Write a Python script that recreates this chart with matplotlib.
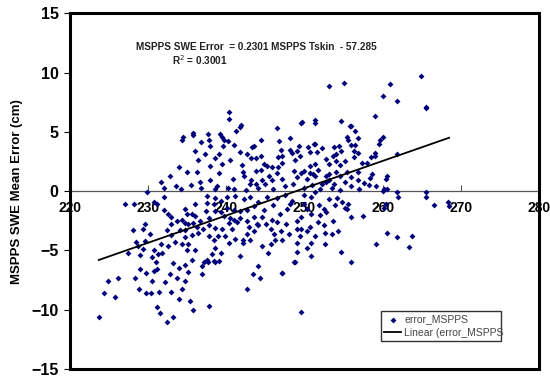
import numpy as np
import matplotlib.pyplot as plt
from matplotlib.patches import Rectangle

plt.rcParams['font.family'] = ['Liberation Sans', 'DejaVu Sans']

# ===== Data: (MSPPS Tskin, SWE mean error) =====
far_left = [
    (223.7, -10.6), (224.4, -8.6), (224.9, -7.6), (225.8, -8.9), (226.2, -7.3),
    (227.5, -5.2), (227.0, -1.1), (228.2, -1.1), (228.3, -7.3), (228.8, -8.3),
    (228.5, -4.3), (228.7, -4.6), (229.0, -6.6), (229.7, -8.6), (229.7, -6.9),
    (229.4, -3.2), (229.9, -0.1), (229.6, -4.2), (229.4, -4.9), (229.0, -5.4),
    (229.6, -2.8), (228.1, -3.3), (230.3, -3.6), (230.7, -5.0), (230.5, -5.6),
    (231.0, -6.0), (230.7, -6.7), (230.5, -7.6), (230.4, -8.6), (231.4, -8.5),
    (231.1, -9.8), (231.5, -10.3), (232.4, -11.0), (233.2, -10.6), (232.2, -7.7),
    (232.8, -7.0), (233.9, -9.1), (234.3, -8.3), (235.4, -9.3), (235.8, -10.0),
    (234.7, -7.6), (233.0, -8.5), (233.7, -7.3), (230.7, -0.9), (231.1, -1.1),
]
left_mid = [
    (232.0, -0.5), (232.0, -1.6), (232.6, -1.9), (233.0, -2.2), (233.7, -2.5),
    (234.3, -2.4), (234.7, -2.7), (235.1, -2.8), (235.8, -2.7), (236.2, -3.0),
    (236.0, -2.1), (235.6, -1.9), (235.0, -1.9), (234.7, -1.5), (236.0, -1.1),
    (233.0, -2.8), (232.4, -3.3), (233.0, -3.7), (233.5, -4.3), (232.6, -4.6),
    (231.7, -4.5), (231.8, -5.2), (231.3, -5.3), (231.1, -6.6), (233.2, -6.1),
    (233.9, -6.5), (234.7, -6.2), (235.1, -6.8), (235.6, -5.8), (236.0, -5.0),
    (235.0, -5.0), (234.3, -4.5), (234.7, -3.9), (235.6, -3.7), (236.4, -3.5),
    (234.1, -3.3), (234.7, -3.3), (235.1, -4.5), (236.9, -7.0), (237.2, -6.0),
    (237.5, -5.8), (238.2, -5.3), (238.5, -6.0), (239.1, -5.9), (239.3, -5.2),
    (238.6, -4.8), (237.8, -9.7), (236.9, -6.3), (237.7, -6.0), (238.4, -5.9),
]
left_upper = [
    (234.5, 4.6), (234.4, 4.3), (235.8, 4.9), (235.7, 4.7), (236.0, 3.4),
    (235.0, 1.6), (236.3, 1.6), (234.2, 0.2), (240.4, 6.7), (240.3, 6.1),
    (241.9, 5.6), (241.8, 5.4), (241.2, 5.1), (237.7, 4.8), (237.8, 4.3),
    (239.2, 4.8), (239.5, 4.6), (239.7, 4.3), (237.9, 3.8), (239.6, 3.8),
    (237.3, 3.1), (239.1, 3.1), (239.4, 2.3), (237.9, 2.1), (237.9, 0.9),
    (239.1, 1.5), (240.9, 1.0), (242.0, 2.2), (241.8, 3.3), (242.6, 3.1),
    (243.3, 3.7), (243.5, 3.8), (244.4, 4.3), (243.2, 2.8), (243.8, 2.8),
    (242.3, 1.3), (242.1, 1.6), (244.4, 3.0), (244.8, 2.3), (244.4, 1.8),
    (243.8, 1.7), (243.2, 0.9), (243.8, 0.6), (243.0, 0.6), (244.6, 0.9),
    (245.0, 0.6), (245.5, 1.3), (245.8, 2.0), (245.2, 2.1), (232.8, 1.3),
    (233.9, 2.0), (231.7, 0.8), (236.7, 0.8), (238.8, 0.4), (236.4, 2.6),
    (240.5, 2.6), (241.0, 3.9), (238.5, 2.8), (240.2, 4.2), (236.8, 4.1),
]
core_upper = [
    (246.5, 5.3), (246.8, 4.2), (247.0, 3.5), (246.6, 2.9), (247.1, 2.4),
    (246.6, 2.0), (246.5, 1.5), (245.8, 0.9), (247.1, 1.0), (248.2, 4.5),
    (248.4, 3.2), (249.0, 3.4), (249.4, 3.0), (249.3, 3.8), (249.5, 5.7),
    (249.7, 5.8), (249.5, 1.5), (249.9, 1.7), (248.7, 1.7), (249.0, 1.2),
    (250.3, 1.0), (250.7, 1.5), (251.1, 1.4), (250.7, 2.1), (248.1, 3.5),
    (247.1, 3.0), (250.5, 3.7), (250.7, 3.3), (251.2, 4.0), (251.6, 3.3),
    (240.2, 0.3), (241.0, 0.2), (242.5, 0.1), (244.0, 0.3), (246.0, 0.2),
    (247.5, 0.4), (248.5, 0.6), (250.0, 0.3), (251.0, 0.5), (252.0, 0.2),
    (253.5, 0.3), (254.5, 0.1), (256.0, 0.4), (257.0, 0.2), (238.5, 0.2),
    (236.8, 0.3), (235.5, 0.5), (233.6, 0.4), (232.0, 0.3), (248.8, 2.6),
]
core_lower = [
    (242.7, -8.3), (243.4, -7.0), (244.3, -7.3), (244.1, -6.3), (247.1, -6.9),
    (249.6, -10.2), (248.8, -6.0), (249.0, -5.1), (250.9, -5.5), (241.8, -5.5),
    (245.4, -5.2), (244.6, -4.6), (245.7, -4.5), (246.3, -4.1), (247.1, -4.1),
    (246.1, -3.6), (247.0, -3.4), (245.7, -3.2), (245.1, -2.8), (244.1, -2.9),
    (243.5, -3.4), (242.7, -3.6), (242.2, -4.1), (243.1, -4.1), (242.1, -4.4),
    (241.1, -4.0), (240.4, -4.4), (239.8, -3.8), (239.0, -3.8), (238.4, -4.1),
    (237.8, -3.8), (237.0, -3.2), (237.8, -2.9), (238.5, -3.1), (239.5, -3.2),
    (240.8, -3.2), (241.4, -2.6), (242.6, -2.5), (243.5, -2.2), (244.6, -2.2),
    (245.8, -2.4), (246.5, -2.6), (246.9, -1.9), (247.8, -1.5), (248.2, -1.1),
    (248.4, -0.8), (249.0, -2.5), (249.0, -3.2), (249.6, -3.2), (250.3, -3.4),
    (250.7, -3.0), (249.4, -3.8), (249.0, -4.4), (250.3, -4.8), (250.9, -4.4),
    (249.6, -2.2), (250.3, -1.5), (250.9, -1.9), (249.9, -1.1), (250.9, -0.5),
    (249.9, -0.3), (247.5, -0.3), (246.5, -0.6), (245.2, -0.5), (244.1, -0.9),
    (243.5, -1.3), (242.6, -1.6), (241.8, -1.7), (241.0, -1.6), (240.1, -1.4),
    (239.3, -1.8), (238.6, -1.7), (238.4, -1.1), (239.3, -0.8), (240.1, -0.5),
    (241.1, -0.4), (242.3, -0.7), (243.1, -0.5), (239.7, -2.1), (240.5, -2.3),
    (240.3, -2.7), (241.0, -2.4), (241.8, -2.3), (237.6, -1.0), (237.4, -1.7),
    (236.7, -2.5), (237.8, -2.3), (237.6, -0.4), (238.5, -0.6), (244.8, -1.6),
    (243.9, -2.8), (246.0, -1.2), (247.6, -2.8), (248.0, -3.6), (242.9, -3.0),
]
right_upper = [
    (253.1, 8.9), (255.1, 9.1), (261.0, 9.0), (264.9, 9.7), (260.1, 8.0),
    (261.8, 7.6), (265.6, 7.0), (265.5, 7.1), (259.0, 6.3), (251.4, 6.0),
    (251.4, 5.7), (254.7, 5.9), (255.8, 5.5), (256.0, 5.5), (256.5, 5.1),
    (255.4, 4.6), (256.8, 4.5), (255.6, 4.3), (256.5, 3.9), (255.9, 3.9),
    (256.4, 3.4), (254.4, 3.8), (253.8, 3.7), (254.7, 3.4), (254.1, 3.1),
    (253.6, 3.0), (259.7, 4.3), (260.1, 4.6), (259.5, 4.0), (259.0, 3.2),
    (258.5, 2.9), (259.0, 3.0), (261.8, 3.1), (256.3, 2.9), (256.8, 3.2),
    (252.7, 2.7), (253.2, 2.3), (254.0, 2.5), (254.6, 2.2), (255.2, 2.5),
    (253.2, 1.4), (252.7, 1.3), (254.0, 1.6), (254.6, 1.3), (255.5, 1.6),
    (255.9, 1.2), (257.4, 2.4), (258.0, 2.4), (256.9, 1.6), (251.4, 4.0),
    (251.4, 2.3), (251.8, 1.8), (251.4, 1.3), (252.7, 0.8), (253.2, 0.9),
    (252.3, 0.6), (253.8, 0.6), (255.2, 0.8), (256.9, 0.9), (258.2, 0.5),
    (258.4, 1.1), (260.4, 1.0), (260.6, 1.3), (259.2, 0.4), (260.0, 0.0),
    (261.9, -0.1), (265.5, -0.1), (257.6, 0.7), (258.7, 1.4), (252.2, 3.6),
]
right_lower = [
    (253.1, -0.7), (251.9, -1.2), (252.5, -1.5), (252.0, -2.0), (252.7, -1.8),
    (251.8, -2.6), (252.5, -2.9), (252.6, -3.5), (253.5, -3.6), (254.3, -3.4),
    (252.6, -4.5), (254.7, -5.1), (255.9, -6.0), (254.2, -0.6), (254.8, -0.9),
    (255.2, -1.4), (255.4, -1.5), (255.6, -1.1), (256.0, -2.2), (257.5, -2.1),
    (260.2, -1.4), (260.6, -3.5), (261.8, -3.9), (259.1, -4.5), (263.4, -4.7),
    (263.8, -3.8), (262.0, -0.5), (265.5, -0.5), (260.2, 0.2), (260.6, 0.2),
    (251.4, -0.1), (266.6, -1.2), (268.4, -0.9), (268.5, -1.3), (248.7, -6.0),
    (247.1, -6.9), (260.4, -1.1), (253.6, -2.5), (251.3, -3.8), (253.9, -1.2),
]

# Excel linear trendline: MSPPS SWE Error = 0.2301 * Tskin - 57.285
slope = 0.2301
intercept = -57.285

groups = [far_left, left_mid, left_upper, core_upper, core_lower, right_upper, right_lower]
pts = np.array([p for g in groups for p in g])
tskin, swe_err = pts[:, 0], pts[:, 1]

# ===== Plot =====
fig = plt.figure(figsize=(5.5, 3.78), dpi=100)
ax = fig.add_axes([0.127, 0.024, 0.853, 0.941])

ax.scatter(tskin, swe_err, marker='D', s=9, color='#00007a', linewidths=0,
           label='error_MSPPS', zorder=3)
x_fit = np.array([tskin.min(), tskin.max()])
ax.plot(x_fit, slope * x_fit + intercept, color='black', lw=1.3,
        label='Linear (error_MSPPS', zorder=4)

ax.set_xlim(220, 280)
ax.set_ylim(-15, 15)
ax.set_xticks(np.arange(220, 281, 10))
ax.set_yticks(np.arange(-15, 16, 5))
ax.set_axisbelow(True)

# x axis crosses at y = 0, frame drawn as a heavy box
for s in ['top', 'right', 'left']:
    ax.spines[s].set_visible(False)
ax.spines['bottom'].set_position(('data', 0))
ax.spines['bottom'].set_color('#555555')
ax.spines['bottom'].set_linewidth(0.9)
ax.add_patch(Rectangle((0, 0), 1, 1, transform=ax.transAxes, fill=False,
                       lw=2.2, ec='black', clip_on=False, zorder=5))

ax.tick_params(axis='x', direction='in', length=4, width=0.8, pad=7,
               labelsize=10, color='#555555')
ax.tick_params(axis='y', direction='out', length=4, width=0.8, pad=4,
               labelsize=11.5)
for lab in ax.get_xticklabels() + ax.get_yticklabels():
    lab.set_fontweight('bold')

ax.set_ylabel('MSPPS SWE Mean Error (cm)', fontsize=9.5, fontweight='bold',
              labelpad=6)

ax.text(0.398, 0.905, 'MSPPS SWE Error  = 0.2301 MSPPS Tskin  - 57.285',
        transform=ax.transAxes, ha='center', va='center', fontsize=7.2,
        fontweight='bold', color='#222222')
ax.text(0.277, 0.868, 'R$^2$ = 0.3001', transform=ax.transAxes, ha='center',
        va='center', fontsize=7.2, fontweight='bold', color='#222222')

leg = ax.legend(loc='lower left', bbox_to_anchor=(0.664, 0.079, 0.255, 0.09),
                mode='expand', fontsize=7.5, frameon=True, fancybox=False,
                framealpha=1, edgecolor='#333333', borderpad=0.3,
                handlelength=1.6, handletextpad=0.3, labelspacing=0.3,
                borderaxespad=0)
leg.get_frame().set_linewidth(1.0)
for t in leg.get_texts():
    t.set_color('#444444')

fig.savefig('out.png', dpi=100)
